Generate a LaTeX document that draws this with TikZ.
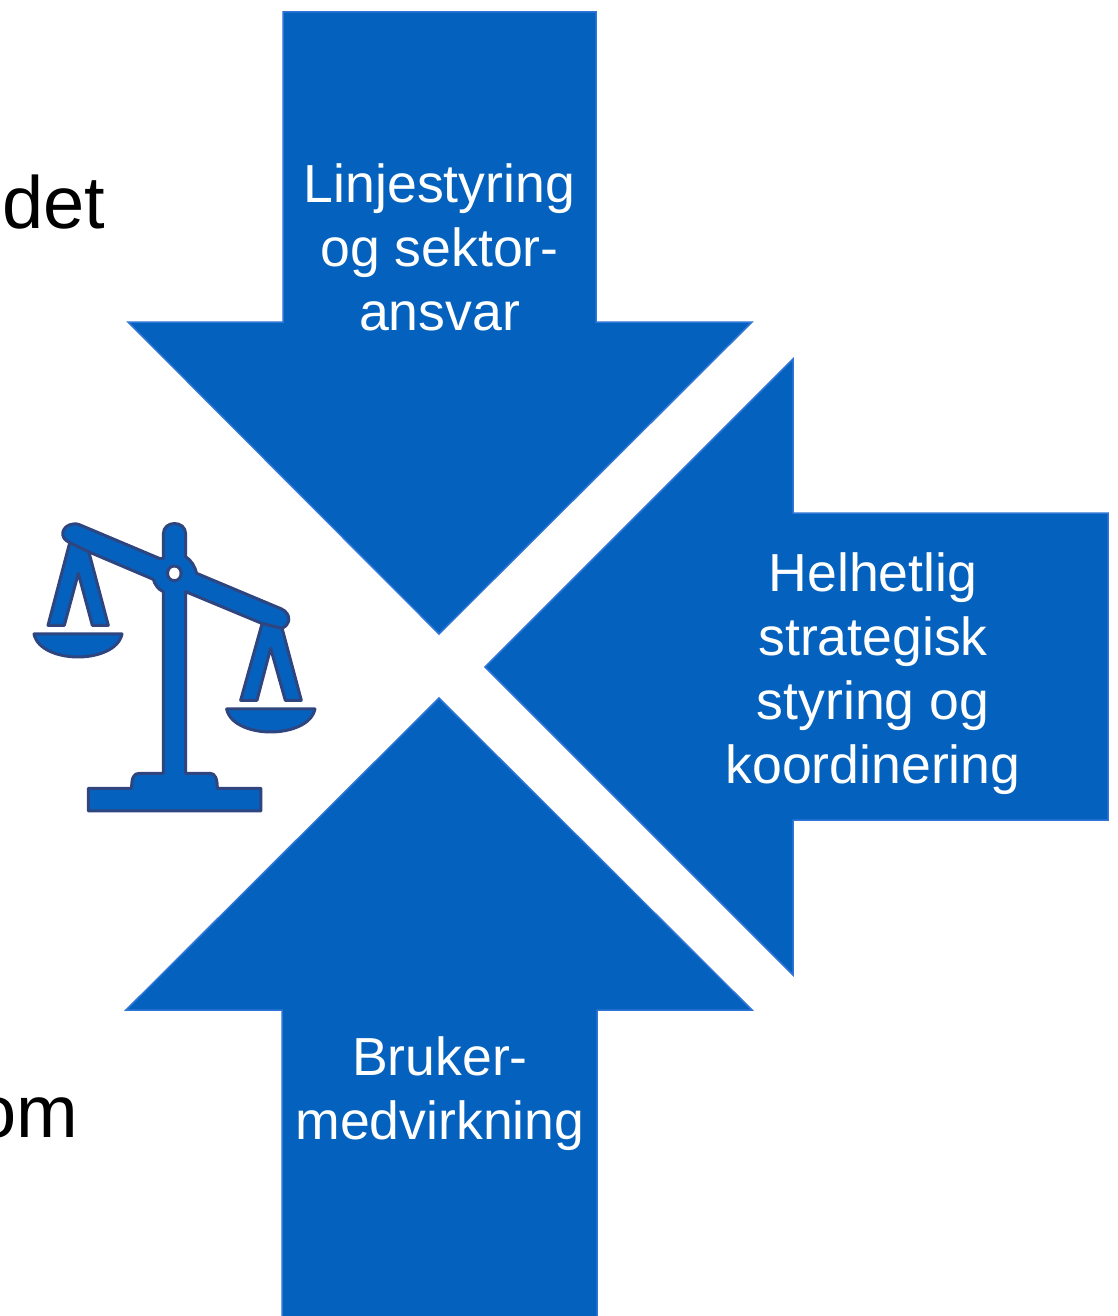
\documentclass[tikz,border=0pt]{standalone}
\usepackage{fontspec}
\setmainfont{Liberation Sans}
\definecolor{arrowfill}{HTML}{0461BD}
\definecolor{arrowedge}{HTML}{2E75D6}
\definecolor{iconedge}{HTML}{2F4580}
\tikzset{
  bigarrow/.style={fill=arrowfill,draw=arrowedge,line width=1.5pt,line join=miter},
  arrowtext/.style={text=white,align=center,inner sep=0pt,font=\fontsize{53.6}{64}\selectfont},
  sidetext/.style={text=black,inner sep=0pt,anchor=base east,font=\fontsize{74}{84}\selectfont},
  iconpart/.style={fill=arrowfill,draw=iconedge,line width=3pt,line join=round,even odd rule}
}
\begin{document}
\begin{tikzpicture}[x=1pt,y=-1pt]
\useasboundingbox (0,0) rectangle (1117,1316);
\clip (0,0) rectangle (1117,1316);
% big arrows
\path[bigarrow] (283,12) -- (596,12) -- (596,322) -- (752,322) -- (439,634) -- (128,322) -- (283,322) -- cycle;
\path[bigarrow] (1108,513) -- (793,513) -- (793,359) -- (485,667) -- (793,975) -- (793,820) -- (1108,820) -- cycle;
\path[bigarrow] (439,698) -- (752,1010) -- (597,1010) -- (597,1330) -- (282,1330) -- (282,1010) -- (126,1010) -- cycle;
\node[arrowtext] (top) at (439.5,247) {Linjestyring\\og sektor-\\ansvar};
\node[arrowtext] (right) at (873,674) {Helhetlig\\strategisk\\styring og\\koordinering};
\node[arrowtext] (bottom) at (440,1094) {Bruker-\\medvirkning};
\node[sidetext] (det) at (105.5,228) {det};
\node[sidetext] (om) at (78,1137) {om};
% scales icon
\begin{scope}[shift={(20,510)},x=0.3333pt,y=-0.3333pt]
 % left hanger
 \path[iconpart] (150,95) -- (84,346) -- (133,346) -- (175,190) -- (217,346) -- (265,346) -- (205,120) -- cycle;
 % right hanger
 \path[iconpart] (728,335) -- (662,571) -- (711,571) -- (752,415) -- (796,571) -- (844,571) -- (785,350) -- cycle;
 % pans
 \path[iconpart] (42,372) -- (306,372) .. controls (296,420) and (230,441) .. (174,441) .. controls (118,441) and (52,420) .. (42,372) -- cycle;
 \path[iconpart] (620,597) -- (885,597) .. controls (875,645) and (808,666) .. (752,666) .. controls (696,666) and (630,645) .. (620,597) -- cycle;
 % post, beam and base as one outline
 \path[iconpart]
   (430,145) -- (430,72) .. controls (430,30) and (497,30) .. (497,72) -- (497,140)
   .. controls (515,152) and (525,170) .. (530,190)
   -- (785,297) .. controls (815,312) and (812,345) .. (785,355)
   -- (725,340) -- (497,245) -- (497,790) -- (570,790)
   .. controls (585,790) and (592,805) .. (592,835)
   -- (723,835) -- (723,903) -- (205,903) -- (205,835) -- (335,835)
   .. controls (335,805) and (340,790) .. (358,790) -- (430,790) -- (430,245)
   .. controls (415,238) and (405,225) .. (400,208)
   -- (205,125) -- (150,98) .. controls (115,85) and (125,45) .. (160,42)
   .. controls (168,41) and (172,42) .. (178,44) -- (420,146) -- cycle
   (463,168) .. controls (490,168) and (490,212) .. (463,212) .. controls (436,212) and (436,168) .. (463,168) -- cycle;
\end{scope}
\end{tikzpicture}
\end{document}
